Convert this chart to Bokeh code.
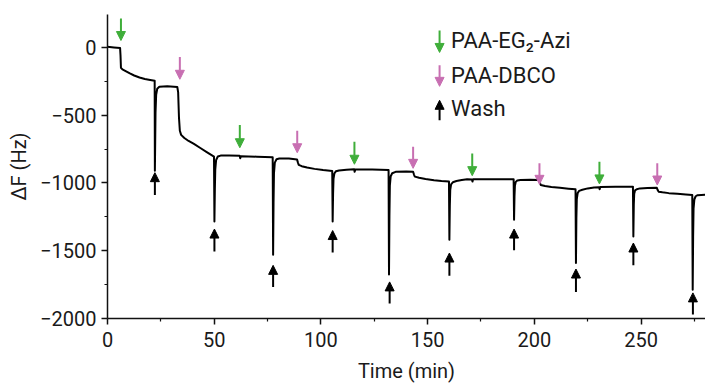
from bokeh.plotting import figure
from bokeh.models import Range1d, FixedTicker, Arrow, NormalHead, ColumnDataSource, Label
from bokeh.embed import file_html
from bokeh.resources import INLINE

# ---------------- data ----------------
time_min = [
    0, 3, 5.9, 6.1, 6.3, 7, 8.5, 10.5, 12.5, 15, 17.5, 20, 22.1,
    22.2, 22.35, 22.5, 22.8, 23.3, 24.3, 28, 32.7,
    33.1, 33.5, 33.9, 34.5, 36, 38, 40.5, 43.5, 46.5, 49.9,
    50.1, 50.3, 50.5, 50.9, 51.7, 53, 57, 61.9, 62.2, 62.5, 70, 77.4,
    77.6, 77.8, 78.0, 78.4, 79.2, 80.5, 85, 88.8,
    89.2, 89.6, 91, 93.5, 97, 101, 105.3,
    105.5, 105.7, 105.9, 106.3, 107, 108.5, 112, 115.6, 115.8, 116.1, 124, 131.7,
    131.9, 132.1, 132.3, 132.7, 133.4, 135, 140, 143.2,
    143.6, 144, 146, 149, 153, 156.5, 160.0,
    160.2, 160.4, 160.6, 161, 161.8, 163.5, 166, 168.5, 170.8, 171.0, 171.3, 180, 190.3,
    190.5, 190.7, 190.9, 191.3, 192, 193.5, 198, 202.2,
    202.6, 203.0, 205, 208, 212, 216, 219.3,
    219.5, 219.7, 219.9, 220.3, 221, 222.5, 225, 228, 230.4, 230.6, 230.9, 238, 246.2,
    246.4, 246.6, 246.8, 247.2, 248, 249.5, 253, 257.4,
    257.8, 258.2, 260, 263, 267, 271, 274.0,
    274.2, 274.4, 274.6, 275, 275.6, 276.5, 280,
]
delta_f = [
    5, 0, -5, -60, -150, -162, -175, -192, -207, -222, -233, -240, -246,
    -910, -700, -480, -350, -305, -290, -287, -292,
    -330, -520, -615, -645, -668, -690, -712, -742, -772, -806,
    -1284, -1050, -900, -830, -805, -798, -797, -800, -818, -803, -806, -811,
    -1529, -1150, -930, -850, -825, -819, -820, -826,
    -848, -866, -876, -886, -896, -905, -912,
    -1284, -1080, -970, -930, -914, -908, -902, -899, -918, -900, -900, -904,
    -1676, -1250, -1020, -950, -928, -918, -916, -917,
    -938, -953, -962, -971, -980, -986, -990,
    -1419, -1170, -1050, -1010, -995, -986, -978, -973, -974, -990, -973, -972, -973,
    -1272, -1100, -1020, -992, -982, -978, -977, -978,
    -998, -1015, -1022, -1029, -1036, -1042, -1046,
    -1591, -1260, -1120, -1075, -1058, -1050, -1040, -1033, -1032, -1046, -1030, -1027, -1027,
    -1395, -1160, -1080, -1055, -1046, -1040, -1037, -1036,
    -1052, -1064, -1069, -1075, -1080, -1085, -1088,
    -1787, -1400, -1190, -1120, -1098, -1090, -1086,
]

# injection markers (PAA-EG2-Azi, green, pointing down)
azi_time = [6.3, 62, 115.7, 170.9, 230.5]
azi_tail = [213, -573, -696, -782, -843]
azi_tip = [51, -740, -862, -946, -1007]

# injection markers (PAA-DBCO, pink, pointing down)
dbco_time = [33.9, 88.9, 143.2, 202.4, 257.6]
dbco_tail = [-71, -615, -733, -855, -855]
dbco_tip = [-235, -777, -892, -1010, -1015]

# wash markers (black, pointing up)
wash_time = [22.2, 50.1, 77.6, 105.5, 132.2, 160.2, 190.5, 219.5, 246.4, 274.3]
wash_tail = [-1088, -1505, -1767, -1513, -1890, -1684, -1497, -1804, -1608, -1970]
wash_tip = [-924, -1340, -1608, -1351, -1730, -1517, -1340, -1635, -1443, -1811]

x_ticks = [0, 50, 100, 150, 200, 250]
x_minor = [25, 75, 125, 175, 225, 275]
y_ticks = [-2000, -1500, -1000, -500, 0]
y_minor = [-1750, -1250, -750, -250]

legend_labels = ["PAA-EG\u2082-Azi", "PAA-DBCO", "Wash"]

# ---------------- styling ----------------
FONT = "Roboto"
GREEN = "#3fae3a"
PINK = "#c86fb2"
BLACK = "#000000"
TEXT = "#1a1a1a"

p = figure(width=705, height=385, output_backend="svg", toolbar_location=None,
           x_range=Range1d(0, 280.2), y_range=Range1d(-2000, 243),
           min_border_left=107, min_border_right=0, min_border_top=14, min_border_bottom=66,
           background_fill_color="white", border_fill_color="white")
p.xgrid.visible = False
p.ygrid.visible = False
p.outline_line_color = None

p.line(time_min, delta_f, line_color=BLACK, line_width=2, line_join="round")


def add_arrows(xs, y0, y1, color):
    src = ColumnDataSource(dict(x=xs, y0=y0, y1=y1))
    p.add_layout(Arrow(end=NormalHead(size=9, fill_color=color, line_color=color, line_width=1),
                       x_start="x", y_start="y0", x_end="x", y_end="y1", source=src,
                       line_color=color, line_width=2))


add_arrows(azi_time, azi_tail, azi_tip, GREEN)
add_arrows(dbco_time, dbco_tail, dbco_tip, PINK)
add_arrows(wash_time, wash_tail, wash_tip, BLACK)

# legend (positions in data units)
leg_arrow_x = 155.6
leg_text_x = 161.0
leg_text_y = [51, -206, -449]
leg_arrow_from = [125, -132, -537]
leg_arrow_to = [-37, -287, -390]
leg_colors = [GREEN, PINK, BLACK]
for lab, ty, a0, a1, c in zip(legend_labels, leg_text_y, leg_arrow_from, leg_arrow_to, leg_colors):
    add_arrows([leg_arrow_x], [a0], [a1], c)
    p.add_layout(Label(x=leg_text_x, y=ty, text=lab, text_font=FONT, text_font_size="22px",
                       text_color=TEXT, text_baseline="middle", text_align="left"))

# axes
for ax in (p.xaxis[0], p.yaxis[0]):
    ax.axis_line_width = 1.5
    ax.axis_line_color = "#111111"
    ax.major_tick_line_color = "#111111"
    ax.minor_tick_line_color = "#111111"
    ax.major_tick_line_width = 1.5
    ax.minor_tick_line_width = 1.2
    ax.major_tick_out = 6
    ax.major_tick_in = 0
    ax.minor_tick_out = 3
    ax.minor_tick_in = 0
    ax.major_label_text_font = FONT
    ax.major_label_text_font_size = "20px"
    ax.major_label_text_color = TEXT
    ax.axis_label_text_font = FONT
    ax.axis_label_text_font_size = "20px"
    ax.axis_label_text_font_style = "normal"
    ax.axis_label_text_color = TEXT

p.xaxis.ticker = FixedTicker(ticks=x_ticks, minor_ticks=x_minor)
p.yaxis.ticker = FixedTicker(ticks=y_ticks, minor_ticks=y_minor)
p.yaxis.major_label_overrides = {v: ("\u2212" + str(-v) if v < 0 else str(v)) for v in y_ticks}
p.xaxis.axis_label = "Time (min)"
p.yaxis.axis_label = "\u0394F (Hz)"
p.xaxis.major_label_standoff = 7
p.yaxis.major_label_standoff = 5
p.xaxis.axis_label_standoff = 9
p.yaxis.axis_label_standoff = 6

open("out.html", "w").write(file_html(p, INLINE))
